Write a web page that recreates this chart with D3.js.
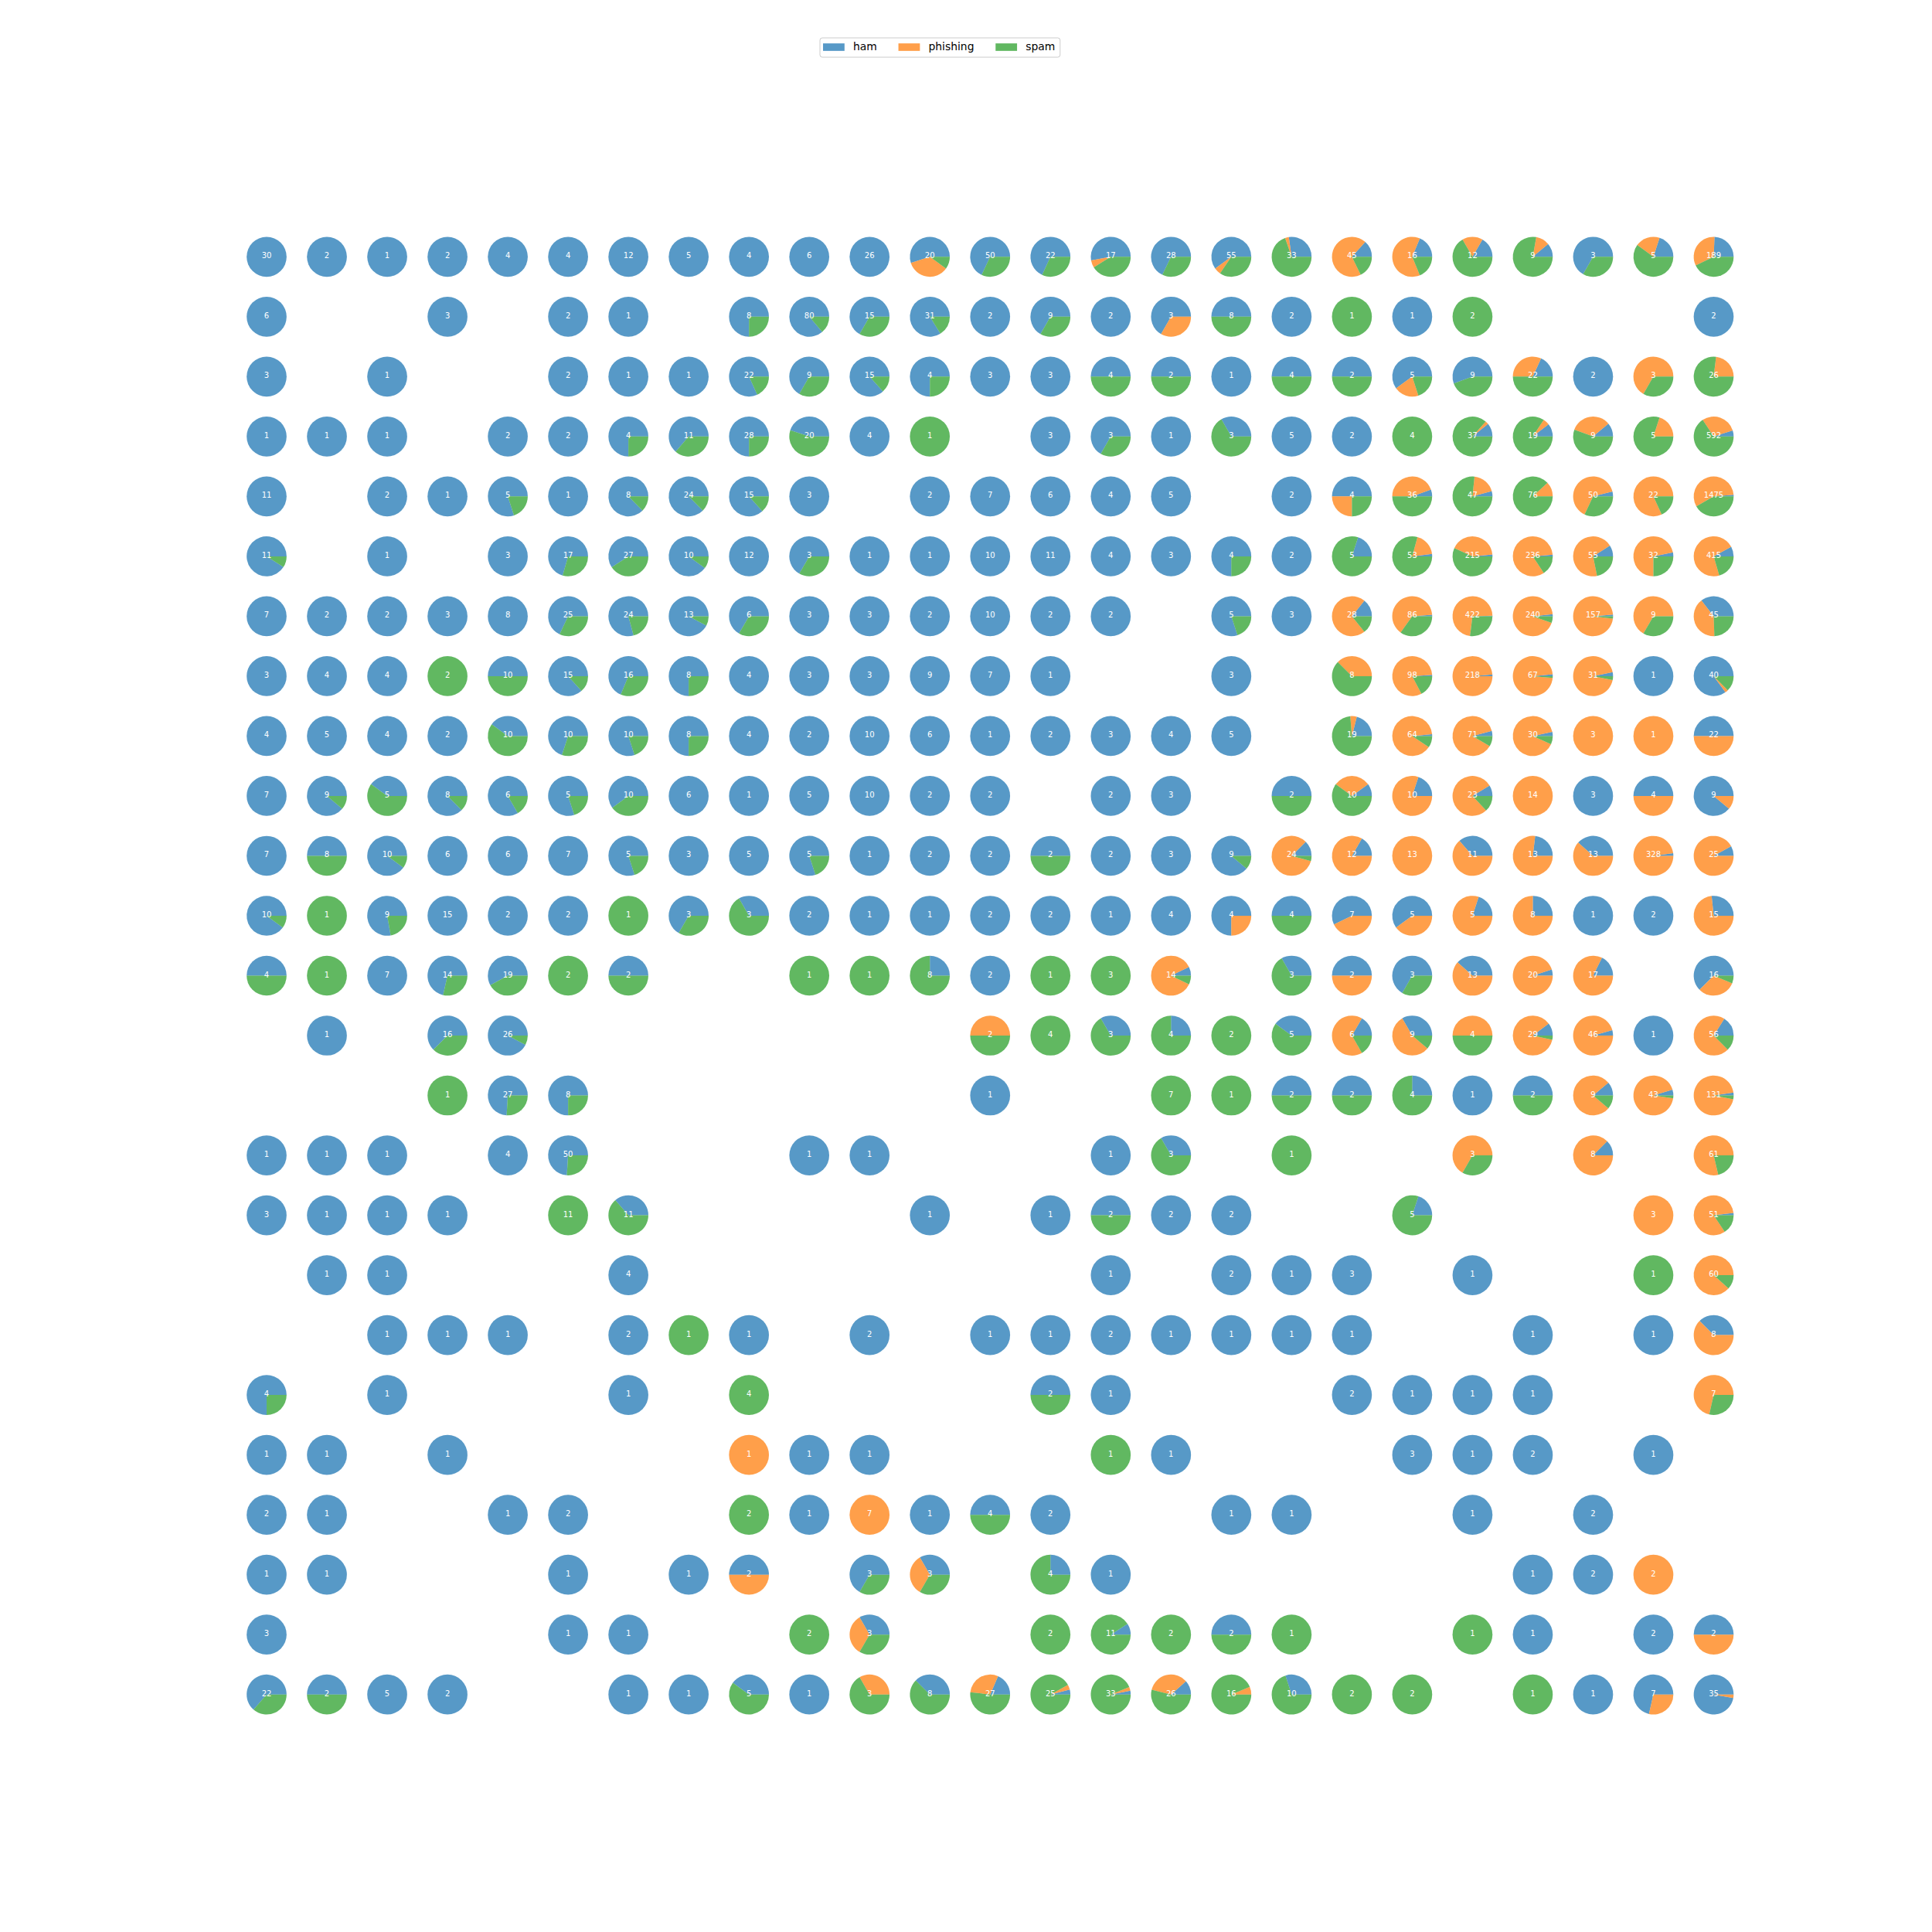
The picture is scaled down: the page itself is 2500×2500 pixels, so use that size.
<!DOCTYPE html>
<html>
<head>
<meta charset="utf-8">
<script src="https://cdn.jsdelivr.net/npm/d3@7"></script>
<style>
  html, body { margin: 0; padding: 0; background: #ffffff; }
  svg { display: block; }
  text { font-family: "DejaVu Sans", sans-serif; }
</style>
</head>
<body>
<svg id="chart" width="2500" height="2500"></svg>
<script>
// ---------------- DATA ----------------
const classes = ["ham", "phishing", "spam"];
const gridRows = d3.range(25);
const gridCols = d3.range(25);

// counts per SOM node: rows top->bottom, columns left->right
const ham = [
  [30,2,1,2,4,4,12,5,4,6,26,11,34,15,9,19,33,9,6,3,2,1,2,1,46],
  [6,0,0,3,0,2,1,0,6,69,10,26,2,6,2,2,4,2,0,1,0,0,0,0,2],
  [3,0,1,0,0,2,1,1,18,6,13,3,3,3,2,1,1,2,1,3,5,4,2,0,0],
  [1,1,1,0,2,2,3,7,21,9,4,0,0,3,2,1,1,5,2,0,4,2,1,0,29],
  [11,0,2,1,4,1,7,21,13,3,0,2,7,6,4,5,0,2,2,2,2,0,2,0,20],
  [10,0,1,0,3,12,16,9,12,2,1,1,10,11,4,3,3,2,1,1,3,3,5,1,33],
  [7,2,2,3,8,17,19,12,4,3,3,2,10,2,2,0,4,3,4,1,2,4,2,0,16],
  [3,4,4,0,5,13,11,6,4,3,3,9,7,1,0,0,3,0,0,1,3,1,1,1,34],
  [4,5,4,2,4,7,8,6,4,2,10,6,1,2,3,4,5,0,4,1,3,1,0,0,11],
  [7,8,2,7,5,4,6,6,1,5,10,2,2,0,2,3,0,1,1,2,2,0,3,2,8],
  [7,4,9,6,6,7,4,3,5,4,1,2,2,1,2,3,8,3,2,0,4,3,5,7,2],
  [9,0,7,15,2,2,0,2,1,2,1,1,2,2,1,4,3,2,4,3,1,2,1,2,4],
  [2,0,7,10,11,0,1,0,0,0,0,2,2,0,0,1,0,1,1,2,5,1,3,0,10],
  [0,1,0,10,24,0,0,0,0,0,0,0,0,0,1,1,0,2,1,3,0,3,2,1,9],
  [0,0,0,0,20,6,0,0,0,0,0,0,1,0,0,0,0,1,1,1,1,1,1,2,3],
  [1,1,1,0,4,37,0,0,0,1,1,0,0,0,1,1,0,0,0,0,0,0,1,0,0],
  [3,1,1,1,0,0,4,0,0,0,0,1,0,1,1,2,2,0,0,1,0,0,0,0,1],
  [0,1,1,0,0,0,4,0,0,0,0,0,0,0,1,0,2,1,3,0,1,0,0,0,0],
  [0,0,1,1,1,0,2,0,1,0,2,0,1,1,2,1,1,1,1,0,0,1,0,1,3],
  [3,0,1,0,0,0,1,0,0,0,0,0,0,1,1,0,0,0,2,1,1,1,0,0,0],
  [1,1,0,1,0,0,0,0,0,1,1,0,0,0,0,1,0,0,0,3,1,2,0,1,0],
  [2,1,0,0,1,2,0,0,0,1,0,1,2,2,0,0,1,1,0,0,1,0,2,0,0],
  [1,1,0,0,0,1,0,1,1,0,2,1,0,1,1,0,0,0,0,0,0,1,2,0,0],
  [3,0,0,0,0,1,1,0,0,0,1,0,0,0,1,0,1,0,0,0,0,1,0,2,1],
  [14,1,5,2,0,0,1,1,2,1,0,3,5,1,1,3,0,3,0,0,0,0,1,5,34]
];

const phishing = [
  [0,0,0,0,0,0,0,0,0,0,0,7,0,0,1,0,3,1,31,10,2,1,0,1,62],
  [0,0,0,0,0,0,0,0,0,0,0,0,0,0,0,1,0,0,0,0,0,0,0,0,0],
  [0,0,0,0,0,0,0,0,0,0,0,0,0,0,0,0,0,0,0,1,0,7,0,2,6],
  [0,0,0,0,0,0,0,0,0,0,0,0,0,0,0,0,0,0,0,0,1,1,3,1,174],
  [0,0,0,0,0,0,0,0,0,0,0,0,0,0,0,0,0,0,1,16,9,9,32,18,839],
  [0,0,0,0,0,0,0,0,0,0,0,0,0,0,0,0,0,0,0,10,90,196,38,23,297],
  [0,0,0,0,0,0,0,0,0,0,0,0,0,0,0,0,0,0,20,55,306,223,152,6,18],
  [0,0,0,0,0,0,0,0,0,0,0,0,0,0,0,0,0,0,3,80,215,65,29,0,1],
  [0,0,0,0,0,0,0,0,0,0,0,0,0,0,0,0,0,0,1,57,62,27,3,1,11],
  [0,0,0,0,0,0,0,0,0,0,0,0,0,0,0,0,0,0,3,8,18,14,0,2,1],
  [0,0,0,0,0,0,0,0,0,0,0,0,0,0,0,0,0,20,10,13,7,10,8,321,23],
  [0,0,0,0,0,0,0,0,0,0,0,0,0,0,0,0,1,0,3,2,4,6,0,0,11],
  [0,0,0,0,0,0,0,0,0,0,0,0,0,0,0,12,0,0,1,0,8,19,14,0,5],
  [0,0,0,0,0,0,0,0,0,0,0,0,1,0,0,0,0,0,4,5,2,25,44,0,40],
  [0,0,0,0,0,0,0,0,0,0,0,0,0,0,0,0,0,0,0,0,0,0,7,40,124],
  [0,0,0,0,0,0,0,0,0,0,0,0,0,0,0,0,0,0,0,0,2,0,7,0,48],
  [0,0,0,0,0,0,0,0,0,0,0,0,0,0,0,0,0,0,0,0,0,0,0,3,42],
  [0,0,0,0,0,0,0,0,0,0,0,0,0,0,0,0,0,0,0,0,0,0,0,0,53],
  [0,0,0,0,0,0,0,0,0,0,0,0,0,0,0,0,0,0,0,0,0,0,0,0,5],
  [0,0,0,0,0,0,0,0,0,0,0,0,0,0,0,0,0,0,0,0,0,0,0,0,5],
  [0,0,0,0,0,0,0,0,1,0,0,0,0,0,0,0,0,0,0,0,0,0,0,0,0],
  [0,0,0,0,0,0,0,0,0,0,7,0,0,0,0,0,0,0,0,0,0,0,0,0,0],
  [0,0,0,0,0,0,0,0,1,0,0,1,0,0,0,0,0,0,0,0,0,0,0,2,0],
  [0,0,0,0,0,0,0,0,0,0,1,0,0,0,0,0,0,0,0,0,0,0,0,0,1],
  [0,0,0,0,0,0,0,0,0,0,1,0,8,1,1,9,1,0,0,0,0,0,0,2,1]
];

const spam = [
  [0,0,0,0,0,0,0,0,0,0,0,2,16,7,7,9,19,23,8,3,8,7,1,3,81],
  [0,0,0,0,0,0,0,0,2,11,5,5,0,3,0,0,4,0,1,0,2,0,0,0,0],
  [0,0,0,0,0,0,0,0,4,3,2,1,0,0,2,1,0,2,1,1,4,11,0,1,20],
  [0,0,0,0,0,0,1,4,7,11,0,1,0,0,1,0,2,0,0,4,32,16,5,4,389],
  [0,0,0,0,1,0,1,3,2,0,0,0,0,0,0,0,0,0,1,18,36,67,16,4,616],
  [1,0,0,0,0,5,11,1,0,1,0,0,0,0,0,0,1,0,4,42,122,37,12,8,85],
  [0,0,0,0,0,8,5,1,2,0,0,0,0,0,0,0,1,0,4,30,114,13,3,3,11],
  [0,0,0,2,5,2,5,2,0,0,0,0,0,0,0,0,0,0,5,17,0,1,1,0,5],
  [0,0,0,0,6,3,2,2,0,0,0,0,0,0,0,0,0,0,14,6,6,2,0,0,0],
  [0,1,3,1,1,1,4,0,0,0,0,0,0,0,0,0,0,1,6,0,3,0,0,0,0],
  [0,4,1,0,0,0,1,0,0,1,0,0,0,1,0,0,1,1,0,0,0,0,0,0,0],
  [1,1,2,0,0,0,1,1,2,0,0,0,0,0,0,0,0,2,0,0,0,0,0,0,0],
  [2,1,0,4,8,2,1,0,0,1,1,6,0,1,3,1,0,2,0,1,0,0,0,0,1],
  [0,0,0,6,2,0,0,0,0,0,0,0,1,4,2,3,2,3,1,1,2,1,0,0,7],
  [0,0,0,1,7,2,0,0,0,0,0,0,0,0,0,7,1,1,1,3,0,1,1,1,4],
  [0,0,0,0,0,13,0,0,0,0,0,0,0,0,0,2,0,1,0,0,1,0,0,0,13],
  [0,0,0,0,0,11,7,0,0,0,0,0,0,0,1,0,0,0,0,4,0,0,0,0,8],
  [0,0,0,0,0,0,0,0,0,0,0,0,0,0,0,0,0,0,0,0,0,0,0,1,7],
  [0,0,0,0,0,0,0,1,0,0,0,0,0,0,0,0,0,0,0,0,0,0,0,0,0],
  [1,0,0,0,0,0,0,0,4,0,0,0,0,1,0,0,0,0,0,0,0,0,0,0,2],
  [0,0,0,0,0,0,0,0,0,0,0,0,0,0,1,0,0,0,0,0,0,0,0,0,0],
  [0,0,0,0,0,0,0,0,2,0,0,0,2,0,0,0,0,0,0,0,0,0,0,0,0],
  [0,0,0,0,0,0,0,0,0,0,1,1,0,3,0,0,0,0,0,0,0,0,0,0,0],
  [0,0,0,0,0,0,0,0,0,2,1,0,0,2,10,2,1,1,0,0,1,0,0,0,0],
  [8,1,0,0,0,0,0,0,3,0,2,5,14,23,31,14,15,7,2,2,0,1,0,0,0]
];

const classColors = ["#1f77b4", "#ff7f0e", "#2ca02c"];

// ---------------- LAYOUT ----------------
const W = 2500, H = 2500;
const svg = d3.select("#chart");

const x = d3.scaleBand().domain(gridCols).range([312.5, 2250]).paddingInner(1 / 6).paddingOuter(0);
const y = d3.scaleBand().domain(gridRows).range([300, 2225]).paddingInner(1 / 6).paddingOuter(0);
const color = d3.scaleOrdinal().domain(classes).range(classColors);

const radius = Math.min(x.bandwidth(), y.bandwidth()) / 2 / 1.25;

// matplotlib-style pie: start at 3 o'clock, counter-clockwise
const pie = d3.pie()
  .sort(null)
  .value(d => d.value)
  .startAngle(Math.PI / 2)
  .endAngle(Math.PI / 2 - 2 * Math.PI);

const arc = d3.arc().innerRadius(0).outerRadius(radius);

const cells = [];
gridRows.forEach(r => {
  gridCols.forEach(c => {
    const vals = [ham[r][c], phishing[r][c], spam[r][c]];
    const total = d3.sum(vals);
    if (total > 0) {
      cells.push({ r, c, total, parts: classes.map((k, i) => ({ key: k, value: vals[i] })) });
    }
  });
});

const g = svg.append("g");
const cellG = g.selectAll("g.cell")
  .data(cells)
  .join("g")
  .attr("class", "cell")
  .attr("transform", d => `translate(${x(d.c) + x.bandwidth() / 2},${y(d.r) + y.bandwidth() / 2})`);

cellG.selectAll("path")
  .data(d => pie(d.parts).filter(p => p.data.value > 0))
  .join("path")
  .attr("d", arc)
  .attr("fill", p => color(p.data.key))
  .attr("fill-opacity", 0.75);

cellG.append("text")
  .attr("text-anchor", "middle")
  .attr("dy", "0.2em")
  .attr("font-size", 10)
  .attr("fill", "#ffffff")
  .text(d => d.total);

// ---------------- LEGEND ----------------
const legendFont = 13.9;
const leg = svg.append("g").attr("class", "legend");
const frame = leg.append("rect");
let lx = 1065;
const patchW = 27.8, patchH = 9.7, textPad = 11.1, colSpace = 27.8;
const legY = 61;
classes.forEach((k, i) => {
  leg.append("rect")
    .attr("x", lx).attr("y", legY - patchH / 2)
    .attr("width", patchW).attr("height", patchH)
    .attr("fill", color(k)).attr("fill-opacity", 0.75);
  const t = leg.append("text")
    .attr("x", lx + patchW + textPad)
    .attr("y", legY)
    .attr("dy", "0.32em")
    .attr("font-size", legendFont)
    .attr("fill", "#000000")
    .text(k);
  const tw = t.node().getComputedTextLength();
  lx = lx + patchW + textPad + tw + (i < classes.length - 1 ? colSpace : 0);
});
frame
  .attr("x", 1061).attr("y", 49)
  .attr("width", lx + 6.5 - 1061).attr("height", 25)
  .attr("rx", 3).attr("ry", 3)
  .attr("fill", "#ffffff").attr("fill-opacity", 0.8)
  .attr("stroke", "#cccccc").attr("stroke-width", 1);
</script>
</body>
</html>
